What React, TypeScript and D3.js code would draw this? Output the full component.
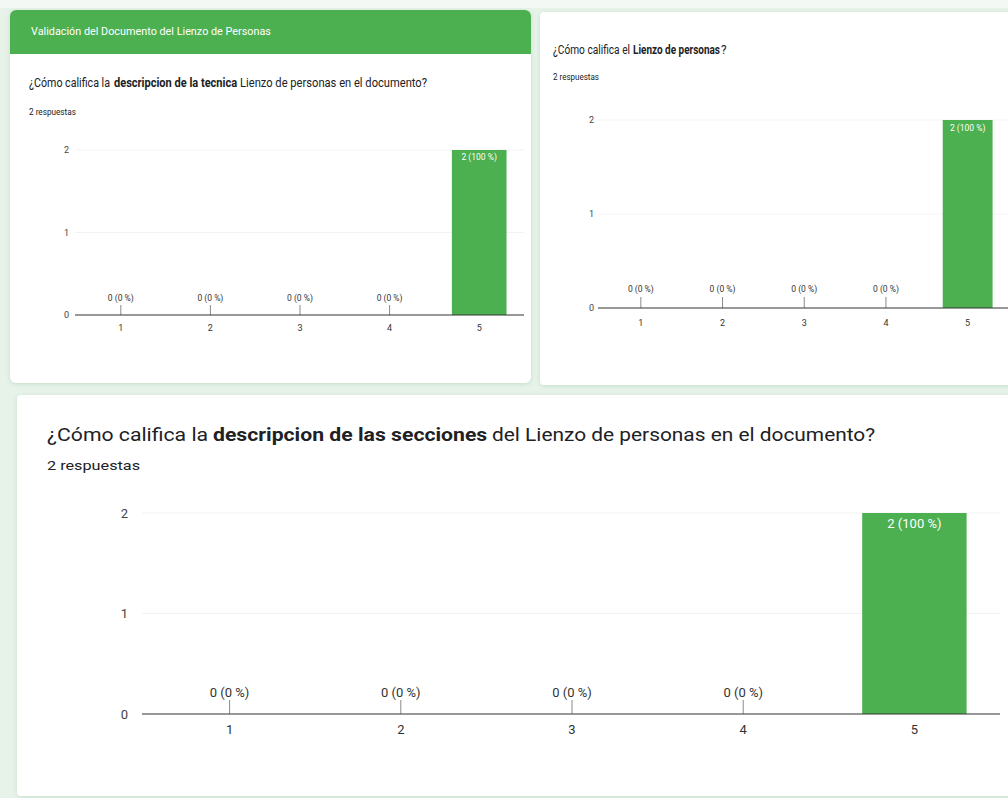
import React, { useLayoutEffect, useRef, useState } from 'react';
import * as d3 from 'd3';

// Survey answers: rating 1..5, two responses per question
const categories = ['1', '2', '3', '4', '5'];
const tecnicaCounts = [0, 0, 0, 0, 2];
const lienzoCounts = [0, 0, 0, 0, 2];
const seccionesCounts = [0, 0, 0, 0, 2];
const yTicks = [0, 1, 2];
const totalResponses = 2;

const headerTitle = 'Validación del Documento del Lienzo de Personas';
// Question text split into plain / bold / plain runs
const tecnicaQuestion = ['¿Cómo califica la', 'descripcion de la tecnica', 'Lienzo de personas en el documento?'];
const lienzoQuestion = ['¿Cómo califica el', 'Lienzo de personas', '?'];
const seccionesQuestion = ['¿Cómo califica la', 'descripcion de las secciones', 'del Lienzo de personas en el documento?'];
const responsesLabel = `${totalResponses} respuestas`;

const GREEN = '#4caf50';
const FONT = 'Roboto, "Noto Sans", sans-serif';

const valueLabel = (v: number) => `${v} (${Math.round((v / totalResponses) * 100)} %)`;

// Text squeezed horizontally (glyph height kept) so that it spans `width` pixels
function FitText({ x, y, width, children, ...rest }: any) {
  const ref = useRef<SVGTextElement>(null);
  const [sx, setSx] = useState(1);
  useLayoutEffect(() => {
    const measure = () => {
      const el = ref.current;
      if (!el) return;
      const n = el.getComputedTextLength();
      if (n > 0) setSx(width / n);
    };
    measure();
    const fonts = (document as any).fonts;
    if (fonts && fonts.ready) fonts.ready.then(measure);
  }, [width, children]);
  return (
    <text ref={ref} transform={`translate(${x},${y}) scale(${sx},1)`} x={0} y={0} {...rest}>
      {children}
    </text>
  );
}

type PanelProps = {
  counts: number[];
  x0: number;
  x1: number;
  yBase: number;
  yTop: number;
  axisStart: number;
  yLabelX: number;
  fs: number;
  zeroLabelDy: number;
  tickLen: number;
  xLabelDy: number;
  barLabelDy: number;
  barFs: number;
};

function BarPanel(p: PanelProps) {
  const x = d3.scaleBand<string>().domain(categories).range([p.x0, p.x1]).paddingInner(0.39).paddingOuter(0.195);
  const y = d3.scaleLinear().domain([0, d3.max(yTicks) as number]).range([p.yBase, p.yTop]);
  const cx = (c: string) => (x(c) as number) + x.bandwidth() / 2;
  return (
    <g fontFamily={FONT}>
      {yTicks.filter((t) => t > 0).map((t) => (
        <line key={'g' + t} x1={p.axisStart} x2={p.x1} y1={y(t)} y2={y(t)} stroke="#f1f3f1" strokeWidth={1} />
      ))}
      {yTicks.map((t) => (
        <text key={'y' + t} x={p.yLabelX} y={y(t)} dy="0.35em" textAnchor="end" fontSize={p.fs} fill="#444">
          {t}
        </text>
      ))}
      {p.counts.map((v, i) => {
        const c = categories[i];
        if (v > 0) {
          return (
            <g key={'b' + c}>
              <rect x={x(c)} y={y(v)} width={x.bandwidth()} height={p.yBase - y(v)} fill={GREEN} />
              <text x={cx(c)} y={y(v) + p.barLabelDy} textAnchor="middle" fontSize={p.barFs} fill="#ffffff">
                {valueLabel(v)}
              </text>
            </g>
          );
        }
        return (
          <g key={'z' + c}>
            <line x1={cx(c)} x2={cx(c)} y1={p.yBase - p.tickLen} y2={p.yBase} stroke="#8a8a8a" strokeWidth={1} />
            <text x={cx(c)} y={p.yBase - p.zeroLabelDy} textAnchor="middle" fontSize={p.barFs} fill="#333">
              {valueLabel(v)}
            </text>
          </g>
        );
      })}
      <line x1={p.axisStart} x2={p.x1} y1={p.yBase} y2={p.yBase} stroke="#333" strokeWidth={1.2} />
      {categories.map((c) => (
        <text key={'x' + c} x={cx(c)} y={p.yBase + p.xLabelDy} textAnchor="middle" fontSize={p.fs} fill="#333">
          {c}
        </text>
      ))}
    </g>
  );
}

// Question as plain / bold / plain runs; runs: [x, width] for each
function Question({ parts, runs, y, fs }: { parts: string[]; runs: [number, number][]; y: number; fs: number }) {
  return (
    <g fontFamily={FONT} fontSize={fs} fill="#202124">
      {parts.map((t, i) => (
        <FitText key={i} x={runs[i][0]} y={y} width={runs[i][1]} fontWeight={i === 1 ? 700 : 400}>
          {t}
        </FitText>
      ))}
    </g>
  );
}

export default function App() {
  return (
    <svg width={1008} height={798} style={{ position: 'absolute', left: 0, top: 0, display: 'block' }}>
      <defs>
        <filter id="cardShadow" x="-5%" y="-5%" width="110%" height="110%">
          <feDropShadow dx="0" dy="1" stdDeviation="2" floodColor="#7fb98a" floodOpacity="0.35" />
        </filter>
      </defs>
      <rect x={0} y={0} width={1008} height={798} fill="#e7f2e9" />
      <rect x={0} y={0} width={1008} height={8} fill="#f4f8f5" />

      {/* Top-left card with green header */}
      <g filter="url(#cardShadow)">
        <rect x={10} y={10} width={521} height={373} rx={6} fill="#ffffff" />
      </g>
      <path d="M10,54 V16 A6,6 0 0 1 16,10 H525 A6,6 0 0 1 531,16 V54 Z" fill={GREEN} />
      <FitText x={31} y={35} width={240} fontFamily={FONT} fontSize={11} fill="#ffffff">
        {headerTitle}
      </FitText>
      <Question parts={tecnicaQuestion} runs={[[29, 81], [114, 123], [240, 187]]} y={87} fs={13} />
      <FitText x={29} y={115} width={47} fontFamily={FONT} fontSize={9.5} fill="#202124">
        {responsesLabel}
      </FitText>
      <BarPanel
        counts={tecnicaCounts}
        x0={76}
        x1={524}
        yBase={315}
        yTop={150}
        axisStart={75}
        yLabelX={69}
        fs={9}
        zeroLabelDy={14}
        tickLen={10}
        xLabelDy={16}
        barLabelDy={10}
        barFs={8.5}
      />

      {/* Top-right card */}
      <g filter="url(#cardShadow)">
        <rect x={540} y={12} width={475} height={373} rx={4} fill="#ffffff" />
      </g>
      <Question parts={lienzoQuestion} runs={[[553, 77], [633, 87], [721, 5.5]]} y={54} fs={13} />
      <FitText x={553} y={80} width={46} fontFamily={FONT} fontSize={9.5} fill="#202124">
        {responsesLabel}
      </FitText>
      <BarPanel
        counts={lienzoCounts}
        x0={600}
        x1={1008.5}
        yBase={308}
        yTop={120}
        axisStart={598}
        yLabelX={594}
        fs={9}
        zeroLabelDy={16}
        tickLen={11}
        xLabelDy={18}
        barLabelDy={11}
        barFs={8.5}
      />

      {/* Bottom card */}
      <g filter="url(#cardShadow)">
        <rect x={17} y={395} width={1000} height={401} rx={4} fill="#ffffff" />
      </g>
      <Question parts={seccionesQuestion} runs={[[47, 161], [213, 274], [492, 383]]} y={441} fs={18} />
      <FitText x={47} y={470} width={93} fontFamily={FONT} fontSize={13.5} fill="#202124">
        {responsesLabel}
      </FitText>
      <BarPanel
        counts={seccionesCounts}
        x0={144}
        x1={1000}
        yBase={714}
        yTop={513}
        axisStart={142}
        yLabelX={128}
        fs={13}
        zeroLabelDy={17}
        tickLen={14}
        xLabelDy={20}
        barLabelDy={15}
        barFs={13}
      />
    </svg>
  );
}
